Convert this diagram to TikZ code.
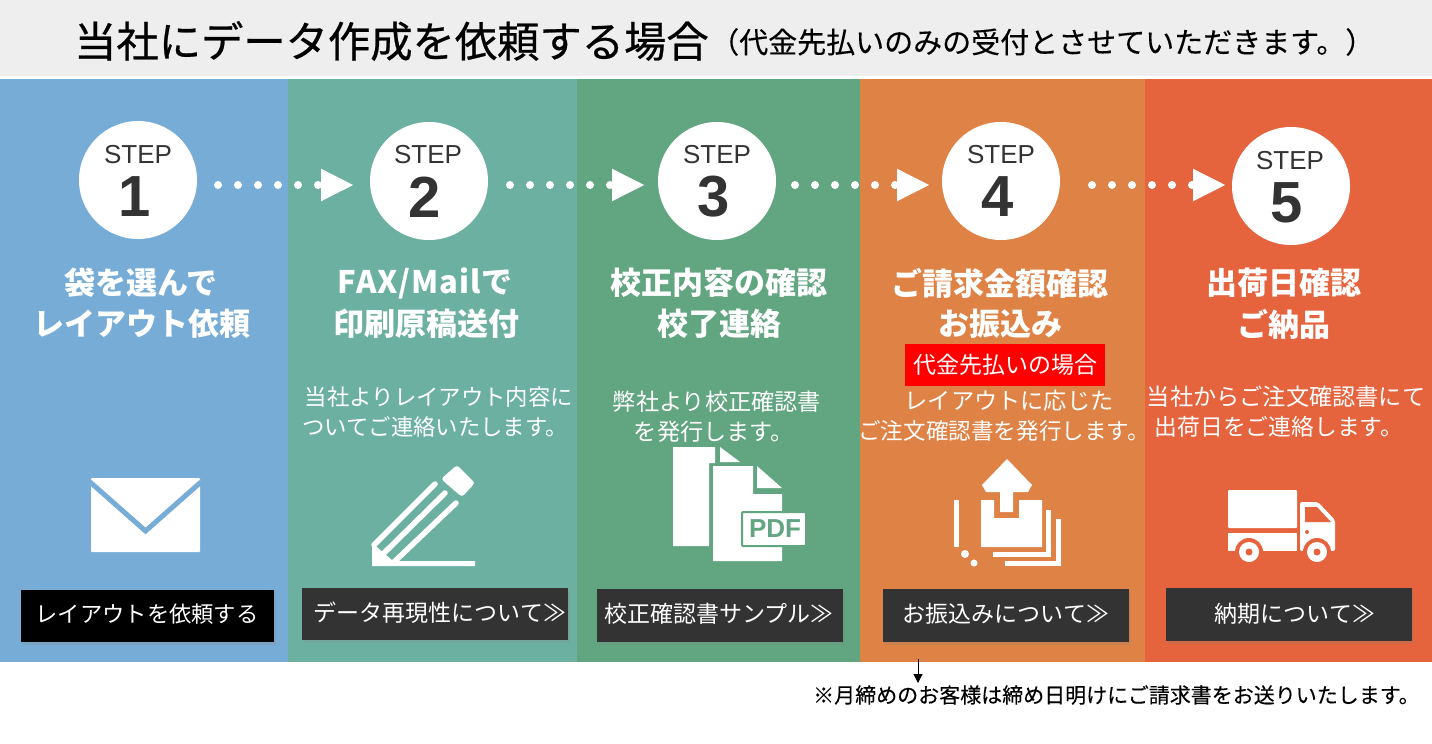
\documentclass[tikz,border=0pt]{standalone}
\usepackage{fontspec}
\usetikzlibrary{arrows.meta,shadows}
\newfontfamily\jp{Noto Sans CJK JP}
\newfontfamily\jpheavy[FakeBold=0.6]{Noto Sans CJK JP}
\newfontfamily\jpmid[FakeBold=0.25]{Noto Sans CJK JP}
\newfontfamily\lat{Liberation Sans}
\definecolor{hdr}{HTML}{EEEEEE}
\definecolor{pa}{HTML}{76ACD6}
\definecolor{pb}{HTML}{6CB0A2}
\definecolor{pc}{HTML}{62A581}
\definecolor{pd}{HTML}{DF8245}
\definecolor{pe}{HTML}{E5633D}
\definecolor{dk}{HTML}{333333}
\definecolor{redb}{HTML}{FF0000}
\newcommand{\fsz}[1]{\fontsize{#1}{#1}\selectfont}
\tikzset{
  stepcircle/.style={circle,fill=white,minimum size=118pt,inner sep=0pt},
  steplabel/.style={text=dk,inner sep=0pt,font=\lat\fsz{26}},
  stepnum/.style={text=dk,inner sep=0pt,font=\lat\bfseries\fsz{58}},
  heading/.style={text=white,inner sep=0pt,font=\jp\bfseries\fsz{31}},
  desc/.style={text=white,inner sep=0pt,font=\jp\fsz{22.4}},
  descw/.style={text=white,inner sep=0pt,font=\jp\fsz{23.2}},
  btnbox/.style={fill=dk,inner sep=0pt,minimum width=246pt,minimum height=53pt,
    drop shadow={shadow xshift=2pt,shadow yshift=-3pt,opacity=.2}},
  btntext/.style={text=white,inner sep=0pt,font=\jp\fsz{23}},
  flow/.style={white,line width=8pt,line cap=round,dash pattern=on 0pt off 20pt,
    -{Triangle[length=33pt,width=30pt,fill=white]}},
  icon/.style={fill=white,draw=none}
}
\begin{document}
\begin{tikzpicture}[x=1pt,y=-1pt]
\useasboundingbox (0,0) rectangle (1432,744);
\fill[white] (0,0) rectangle (1432,744);
% header
\fill[hdr] (0,0) rectangle (1432,76);
\node[anchor=west,inner sep=0pt,font=\jpheavy\fsz{42.3}] (title) at (74,41) {当社にデータ作成を依頼する場合};
\node[anchor=west,inner sep=0pt,font=\jpmid\fsz{29}] (subtitle) at (710,42) {（代金先払いのみの受付とさせていただきます。）};
% panels
\fill[pa] (0,79) rectangle (288,662);
\fill[pb] (288,79) rectangle (577,662);
\fill[pc] (577,79) rectangle (860,662);
\fill[pd] (860,79) rectangle (1145,662);
\fill[pe] (1145,79) rectangle (1432,662);
% step circles
\node[stepcircle] (c1) at (138,180) {};
\node[stepcircle] (c2) at (429,181) {};
\node[stepcircle] (c3) at (717,181) {};
\node[stepcircle] (c4) at (1001,181) {};
\node[stepcircle] (c5) at (1291,186) {};
\node[steplabel] (s1) at (138,155) {STEP};
\node[steplabel] (s2) at (428,155) {STEP};
\node[steplabel] (s3) at (717,155) {STEP};
\node[steplabel] (s4) at (1001,155) {STEP};
\node[steplabel] (s5) at (1290,161) {STEP};
\node[stepnum] (n1) at (135,197) {1};
\node[stepnum] (n2) at (425,197) {2};
\node[stepnum] (n3) at (714,197) {3};
\node[stepnum] (n4) at (998,197) {4};
\node[stepnum] (n5) at (1287,203) {5};
% connectors
\coordinate (a1s) at (218,185); \coordinate (a1e) at (354,185);
\coordinate (a2s) at (510,185); \coordinate (a2e) at (645,185);
\coordinate (a3s) at (795,185); \coordinate (a3e) at (930,185);
\coordinate (a4s) at (1092,185); \coordinate (a4e) at (1226,185);
\draw[flow] (a1s) -- (a1e);
\draw[flow] (a2s) -- (a2e);
\draw[flow] (a3s) -- (a3e);
\draw[flow] (a4s) -- (a4e);
% headings
\node[heading] (h1a) at (141,283) {袋を選んで};
\node[heading] (h1b) at (142,324) {レイアウト依頼};
\node[heading] (h2a) at (425,283) {\addfontfeature{LetterSpace=3}FAX/Mailで};
\node[heading] (h2b) at (426,324) {印刷原稿送付};
\node[heading] (h3a) at (719,283) {校正内容の確認};
\node[heading] (h3b) at (719,324) {校了連絡};
\node[heading] (h4a) at (1000,283) {ご請求金額確認};
\node[heading] (h4b) at (1000,324) {お振込み};
\node[heading] (h5a) at (1284,283) {出荷日確認};
\node[heading] (h5b) at (1284,324) {ご納品};
\node[fill=redb,text=white,inner sep=0pt,minimum width=200pt,minimum height=42pt,font=\jp\fsz{23}] (red) at (1005,365) {代金先払いの場合};
% descriptions
\node[desc] (d2a) at (439,397) {当社よりレイアウト内容に};
\node[desc] (d2b) at (435,427) {ついてご連絡いたします。};
\node[descw] (d3a) at (717,402) {弊社より校正確認書};
\node[descw] (d3b) at (714,432) {を発行します。};
\node[descw] (d4a) at (1009,401) {レイアウトに応じた};
\node[descw,font=\jp\fsz{22.6}] (d4b) at (1004,431) {ご注文確認書を発行します。};
\node[descw] (d5a) at (1286,397) {当社からご注文確認書にて};
\node[descw,font=\jp\fsz{22.8}] (d5b) at (1279,427) {出荷日をご連絡します。};
% envelope
\fill[icon,rounded corners=1pt] (91,478) rectangle (200,552);
\draw[pa,line width=5pt,line cap=butt] (90,482) -- (145.5,531) -- (201,482);
% pencil
\fill[icon] (372,543) -- (372,566) -- (475,566) -- (475,561) -- (402,561) -- (393,561) -- (378,548) -- cycle;
\draw[white,line width=5.5pt,line cap=round] (435,484) -- (374,545);
\draw[white,line width=5.5pt,line cap=round] (445,493) -- (381,556);
\draw[white,line width=5.5pt,line cap=round] (456,503) -- (393,563);
\fill[icon,rounded corners=3pt] (457,465) -- (475,483) -- (462,497) -- (441,479) -- cycle;
% pdf pages
\fill[icon] (673,447) -- (715,447) -- (715,463) -- (709,463) -- (709,546) -- (673,546) -- cycle;
\fill[icon] (720,447) -- (740,462) -- (720,462) -- cycle;
\fill[icon] (713,466) -- (753,466) -- (753,494) -- (782,494) -- (782,561) -- (713,561) -- cycle;
\fill[icon] (757,466) -- (782,488) -- (757,488) -- cycle;
\filldraw[fill=white,draw=pc,line width=2pt,rounded corners=1pt] (742,512) -- (806,512) -- (806,546) -- (742,546) -- cycle;
\fill[pc] (806,510) rectangle (808,548);
\node[inner sep=0pt,text=pc,font=\lat\bfseries\fsz{26}] (pdf) at (775,529) {PDF};
% upload
\fill[icon] (981,500) -- (994,500) -- (994,518) -- (1019,518) -- (1019,500) -- (1042,500) -- (1042,547) -- (981,547) -- cycle;
\fill[icon] (1007,459) -- (1032,485) -- (1028,492) -- (1013,492) -- (1013,512) -- (1000,512) -- (1000,492) -- (986,492) -- (982,485) -- cycle;
\draw[white,line width=5pt] (1048,510) -- (1048,554) -- (993,554);
\draw[white,line width=5pt] (1058,519) -- (1058,563) -- (1005,563);
\draw[white,line width=5pt] (956,500) -- (956,547);
\fill[white] (965,554) circle (4);
\fill[white] (974,563) circle (3.5);
% truck
\fill[icon,rounded corners=1pt] (1228,490) rectangle (1297,528);
\fill[icon] (1228,533) rectangle (1297,551);
\fill[icon,rounded corners=2pt] (1300,502) -- (1318,502) -- (1335,520) -- (1335,551) -- (1300,551) -- cycle;
\fill[pe] (1305,507) -- (1317,507) -- (1331,522) -- (1305,522) -- cycle;
\fill[pe] (1307,532) circle (2);
\fill[pe] (1249,552) circle (14);
\fill[pe] (1317,552) circle (14);
\fill[pe] (1228,551) rectangle (1340,566);
\fill[white] (1249,552) circle (10);
\fill[white] (1317,552) circle (10);
\fill[pe] (1249,552) circle (3.5);
\fill[pe] (1317,552) circle (3.5);
% buttons
\node[btnbox,fill=black,minimum width=253pt,minimum height=52pt] (b1) at (147.5,616) {};
\node[btnbox,minimum width=266pt,minimum height=52pt] (b2) at (435,614) {};
\node[btnbox] (b3) at (720,615.5) {};
\node[btnbox] (b4) at (1006,615.5) {};
\node[btnbox] (b5) at (1289,614.5) {};
\node[btntext,font=\jp\fsz{22.3}] (t1) at (147,614) {レイアウトを依頼する};
\node[btntext] (t2) at (440,613) {データ再現性について≫};
\node[btntext] (t3) at (719,614) {校正確認書サンプル≫};
\node[btntext] (t4) at (1006,614) {お振込みについて≫};
\node[btntext] (t5) at (1295,614) {納期について≫};
% note
\node[anchor=west,inner sep=0pt,font=\jpmid\fsz{21}] (note) at (813,695) {※月締めのお客様は締め日明けにご請求書をお送りいたします。};
\coordinate (ar) at (918,659);
\coordinate (ar2) at (918,683);
\draw[black,line width=1pt,-{Triangle[length=9pt,width=9pt]}] (ar) -- (ar2);
\end{tikzpicture}
\end{document}
